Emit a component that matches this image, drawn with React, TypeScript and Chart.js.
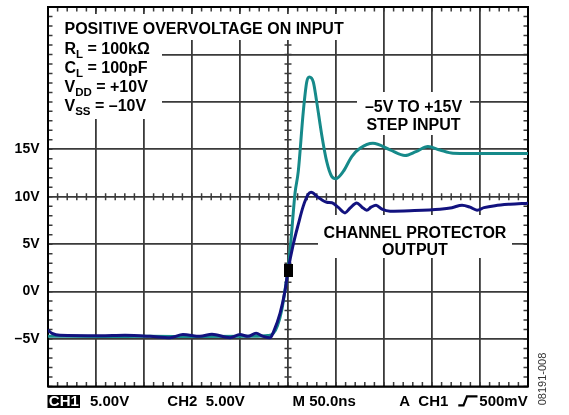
import { useEffect, useRef } from 'react';
import { Chart, registerables } from 'chart.js';

Chart.register(...registerables);

// ---- data (time in ns, 50 ns/div; voltage in V, 5 V/div) ----
const TIME_STEP_INPUT = [0, 54.2, 106.3, 158.3, 210.4, 229.2, 234.7, 239.1, 243.4, 247.9, 250.5, 253.9, 257.3, 260.7, 265.9, 269.5, 272.2, 276.4, 279.9, 285.1, 290.3, 295.5, 300, 307.6, 316.4, 325, 338.5, 356.3, 371.9, 383.3, 395.8, 408.3, 421.9, 460.4, 500];
const VOLT_STEP_INPUT = [-4.7, -4.74, -4.7, -4.74, -4.7, -4.62, -4.4, -3.56, -1.99, 0.84, 2.72, 6.39, 10.37, 12.67, 18.95, 22.09, 22.62, 22.09, 20.0, 16.54, 13.72, 12.15, 11.91, 12.67, 14.24, 15.11, 15.63, 14.94, 14.35, 14.76, 15.29, 14.92, 14.59, 14.55, 14.55];

const TIME_PROTECTOR_OUT = [0, 4.2, 12.5, 54.2, 80.2, 106.3, 127.1, 140.6, 158.3, 170.8, 189.6, 200, 208.3, 216.7, 224, 231.3, 234.7, 241.7, 246.9, 250, 255.5, 260.7, 265.9, 271.1, 274, 281.3, 290.3, 295.8, 302.1, 309.4, 314.6, 321.6, 327.1, 332, 336.5, 341.7, 347.9, 356.3, 377.1, 408.3, 420.8, 431.3, 439.6, 446.9, 454.2, 465.6, 481.3, 500];
const VOLT_PROTECTOR_OUT = [-4.08, -4.4, -4.61, -4.66, -4.61, -4.71, -4.85, -4.53, -4.71, -4.5, -4.85, -4.53, -4.71, -4.4, -4.71, -4.87, -4.29, -2.3, 0.1, 2.2, 4.99, 7.09, 9.01, 10.26, 10.47, 9.95, 9.42, 9.37, 8.9, 8.3, 8.8, 9.35, 8.9, 8.59, 8.9, 9.11, 8.69, 8.48, 8.53, 8.69, 8.85, 9.11, 8.9, 8.59, 8.85, 9.06, 9.21, 9.32];

const TRIGGER_TIME = [250];
const TRIGGER_VOLT = [2.2];

const X_MIN = 0;
const X_MAX = 500;
const X_STEP = 50;
const Y_MIN = -10;
const Y_MAX = 30;
const Y_STEP = 5;

const Y_LABEL_VALUES = [-5, 0, 5, 10, 15];
const Y_LABEL_TEXT = ['–5V', '0V', '5V', '10V', '15V'];

const TITLE = 'POSITIVE OVERVOLTAGE ON INPUT';
const CONDITIONS: [string, string, string][] = [
  ['R', 'L', ' = 100kΩ'],
  ['C', 'L', ' = 100pF'],
  ['V', 'DD', ' = +10V'],
  ['V', 'SS', ' = –10V'],
];
const INPUT_LABEL = ['–5V TO +15V', 'STEP INPUT'];
const OUTPUT_LABEL = ['CHANNEL PROTECTOR', 'OUTPUT'];
const FOOTER_CH1 = 'CH1';
const FOOTER_CH1_SCALE = '5.00V';
const FOOTER_CH2 = 'CH2  5.00V';
const FOOTER_TIME = 'M 50.0ns';
const FOOTER_TRIG_A = 'A';
const FOOTER_TRIG_CH = 'CH1';
const FOOTER_TRIG_LEVEL = '500mV';
const FIGURE_ID = '08191-008';

const FONT = '"Liberation Sans", Arial, Helvetica, sans-serif';
const GRID = '#3a3a3a';
const TEAL = '#168a8a';
const NAVY = '#12127f';

const scopePlugin = {
  id: 'scope',
  beforeDatasetsDraw(chart: any) {
    const ctx: CanvasRenderingContext2D = chart.ctx;
    const a = chart.chartArea;
    const xs = chart.scales.x;
    const ys = chart.scales.y;
    ctx.save();
    // center-line minor ticks
    ctx.strokeStyle = GRID;
    ctx.lineWidth = 1.5;
    const cx = xs.getPixelForValue((X_MIN + X_MAX) / 2);
    const cy = ys.getPixelForValue((Y_MIN + Y_MAX) / 2);
    ctx.beginPath();
    for (let t = X_MIN; t <= X_MAX; t += X_STEP / 5) {
      const px = xs.getPixelForValue(t);
      ctx.moveTo(px, cy - 3.5);
      ctx.lineTo(px, cy + 3.5);
    }
    for (let v = Y_MIN; v <= Y_MAX; v += Y_STEP / 5) {
      const py = ys.getPixelForValue(v);
      ctx.moveTo(cx - 3.5, py);
      ctx.lineTo(cx + 3.5, py);
    }
    ctx.stroke();

    // white label backgrounds
    ctx.fillStyle = '#ffffff';
    ctx.fillRect(a.left, 14, 357 - a.left, 26);
    ctx.fillRect(a.left, 40, 162 - a.left, 79);
    ctx.fillRect(357, 92, 113, 43);
    ctx.fillRect(318, 215, 194, 43);

    // border minor ticks
    ctx.strokeStyle = GRID;
    ctx.lineWidth = 1.5;
    ctx.beginPath();
    for (let t = X_MIN; t <= X_MAX; t += X_STEP / 5) {
      const px = xs.getPixelForValue(t);
      ctx.moveTo(px, a.top);
      ctx.lineTo(px, a.top + 4.5);
      ctx.moveTo(px, a.bottom);
      ctx.lineTo(px, a.bottom - 4.5);
    }
    for (let v = Y_MIN; v <= Y_MAX; v += Y_STEP / 5) {
      const py = ys.getPixelForValue(v);
      ctx.moveTo(a.left, py);
      ctx.lineTo(a.left + 4.5, py);
      ctx.moveTo(a.right, py);
      ctx.lineTo(a.right - 4.5, py);
    }
    ctx.stroke();

    // frame
    ctx.strokeStyle = '#000';
    ctx.lineWidth = 2;
    ctx.strokeRect(a.left, a.top, a.right - a.left, a.bottom - a.top);

    // texts
    ctx.fillStyle = '#000';
    ctx.textBaseline = 'alphabetic';
    ctx.textAlign = 'left';
    ctx.font = `bold 16px ${FONT}`;
    ctx.fillText(TITLE, 64.5, 34.3);

    const baselines = [54.3, 73.3, 92.3, 110.7];
    CONDITIONS.forEach(([main, sub, rest], i) => {
      let x = 64.5;
      const y = baselines[i];
      ctx.font = `bold 16px ${FONT}`;
      ctx.fillText(main, x, y);
      x += ctx.measureText(main).width;
      ctx.font = `bold 11.5px ${FONT}`;
      ctx.fillText(sub, x, y + 4);
      x += ctx.measureText(sub).width;
      ctx.font = `bold 16px ${FONT}`;
      ctx.fillText(rest, x, y);
    });

    ctx.textAlign = 'center';
    ctx.font = `bold 16px ${FONT}`;
    ctx.fillText(INPUT_LABEL[0], 413.5, 111.7);
    ctx.fillText(INPUT_LABEL[1], 413.5, 130);
    ctx.fillText(OUTPUT_LABEL[0], 415, 237.7);
    ctx.fillText(OUTPUT_LABEL[1], 415, 255);
    ctx.restore();
  },
  afterDraw(chart: any) {
    const ctx: CanvasRenderingContext2D = chart.ctx;
    ctx.save();
    const base = 406.3;
    ctx.textBaseline = 'alphabetic';
    ctx.textAlign = 'left';
    ctx.font = `bold 15px ${FONT}`;
    // inverted CH1
    ctx.fillStyle = '#000';
    ctx.fillRect(47.5, 395, 32.5, 13);
    ctx.fillStyle = '#fff';
    ctx.fillText(FOOTER_CH1, 48.8, base);
    ctx.fillStyle = '#000';
    ctx.fillText(FOOTER_CH1_SCALE, 90, base);
    ctx.fillText(FOOTER_CH2, 167.3, base);
    ctx.fillText(FOOTER_TIME, 292.5, base);
    ctx.fillText(FOOTER_TRIG_A, 399.3, base);
    ctx.fillText(FOOTER_TRIG_CH, 418.3, base);
    ctx.fillText(FOOTER_TRIG_LEVEL, 479.3, base);
    // rising-edge trigger symbol
    ctx.strokeStyle = '#000';
    ctx.lineWidth = 2.2;
    ctx.beginPath();
    ctx.moveTo(458.3, base - 1);
    ctx.lineTo(463.5, base - 1);
    ctx.lineTo(467, base - 10);
    ctx.lineTo(477.5, base - 10);
    ctx.stroke();
    // rotated figure id
    ctx.translate(542.5, 379);
    ctx.rotate(-Math.PI / 2);
    ctx.textAlign = 'center';
    ctx.textBaseline = 'middle';
    ctx.font = `11px ${FONT}`;
    ctx.fillStyle = '#333';
    ctx.fillText(FIGURE_ID, 0, 0);
    ctx.restore();
  },
};

export default function App() {
  const ref = useRef<HTMLCanvasElement>(null);
  useEffect(() => {
    const marker = document.createElement('canvas');
    marker.width = 9;
    marker.height = 13;
    const mc = marker.getContext('2d')!;
    mc.fillStyle = '#000';
    mc.fillRect(0, 0, 9, 13);

    const chart = new Chart(ref.current!, {
      type: 'line',
      data: {
        datasets: [
          {
            label: 'trigger',
            type: 'scatter',
            data: TRIGGER_TIME.map((t, i) => ({ x: t, y: TRIGGER_VOLT[i] })),
            pointStyle: marker as any,
            pointRadius: 6,
            order: 0,
          } as any,
          {
            label: 'Channel protector output',
            data: TIME_PROTECTOR_OUT.map((t, i) => ({ x: t, y: VOLT_PROTECTOR_OUT[i] })),
            borderColor: NAVY,
            borderWidth: 3,
            pointRadius: 0,
            cubicInterpolationMode: 'monotone',
            borderCapStyle: 'round',
            borderJoinStyle: 'round',
            fill: false,
            order: 1,
          },
          {
            label: '-5V to +15V step input',
            data: TIME_STEP_INPUT.map((t, i) => ({ x: t, y: VOLT_STEP_INPUT[i] })),
            borderColor: TEAL,
            borderWidth: 3,
            pointRadius: 0,
            cubicInterpolationMode: 'monotone',
            borderCapStyle: 'round',
            borderJoinStyle: 'round',
            fill: false,
            order: 2,
          },
        ],
      },
      options: {
        responsive: false,
        animation: false,
        devicePixelRatio: 1,
        events: [],
        layout: { padding: { left: 0, top: 4.5, right: 41, bottom: 28.5 } },
        plugins: { legend: { display: false }, tooltip: { enabled: false } },
        scales: {
          x: {
            type: 'linear',
            min: X_MIN,
            max: X_MAX,
            ticks: { display: false, stepSize: X_STEP },
            grid: { color: GRID, lineWidth: 1.8, drawTicks: false },
            border: { display: false },
            afterFit(s: any) {
              s.height = 0;
              s.paddingLeft = 0;
              s.paddingRight = 0;
            },
          },
          y: {
            type: 'linear',
            min: Y_MIN,
            max: Y_MAX,
            ticks: {
              stepSize: Y_STEP,
              padding: 8.5,
              color: '#000',
              font: { family: FONT, size: 14, weight: 'bold' },
              callback: (v: any) => {
                const i = Y_LABEL_VALUES.indexOf(Number(v));
                return i >= 0 ? Y_LABEL_TEXT[i] : '';
              },
            },
            grid: { color: GRID, lineWidth: 1.8, drawTicks: false },
            border: { display: false },
            afterFit(s: any) {
              s.width = 48;
              s.paddingTop = 0;
              s.paddingBottom = 0;
            },
          },
        },
      },
      plugins: [scopePlugin],
    } as any);
    return () => chart.destroy();
  }, []);
  return (
    <canvas
      ref={ref}
      width={569}
      height={415}
      style={{ position: 'fixed', left: 0, top: 0, display: 'block' }}
    />
  );
}
